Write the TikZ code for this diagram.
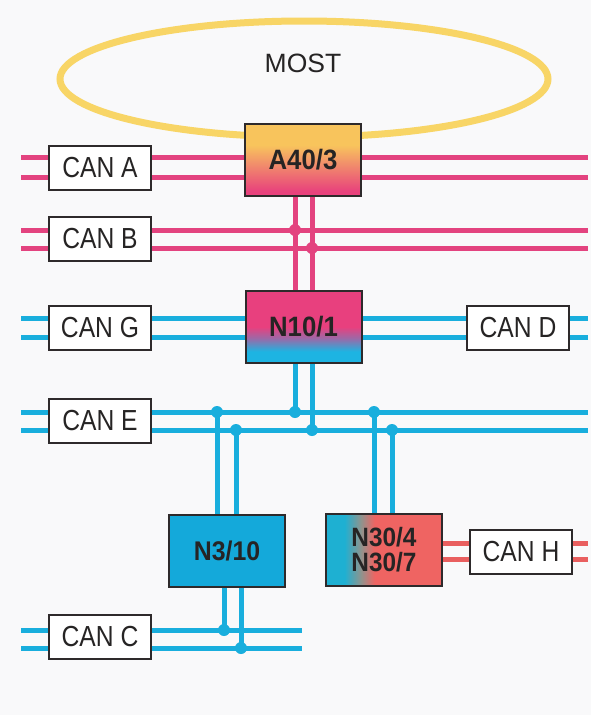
\documentclass[tikz,border=0pt]{standalone}
\usepackage{fontspec}
\setmainfont{Liberation Sans}
\newfontfamily\narrowfont[FakeStretch=0.85]{Liberation Sans}
\newfontfamily\ecufamily[FakeStretch=0.92]{Liberation Sans}
\usetikzlibrary{shapes.geometric}
\definecolor{pinkc}{HTML}{E3437F}
\definecolor{bluec}{HTML}{19AEDD}
\definecolor{salmonc}{HTML}{E95F5F}
\definecolor{yellowc}{HTML}{F8D566}
\definecolor{boxborder}{HTML}{2E2A2B}
\definecolor{txt}{HTML}{262424}
\definecolor{bgc}{HTML}{F9F9FA}
\definecolor{aTop}{HTML}{F8C45C}
\definecolor{aMid}{HTML}{F2926A}
\definecolor{aBot}{HTML}{E8427C}
\definecolor{nPink}{HTML}{E8407E}
\definecolor{nMid}{HTML}{9A6AA8}
\definecolor{nBlue}{HTML}{1DB4E2}
\definecolor{cyanL}{HTML}{1EB0D2}
\definecolor{greyM}{HTML}{8E948E}
\definecolor{salR}{HTML}{EF6462}
\definecolor{nthreefill}{HTML}{14A9DA}
\pgfdeclareverticalshading{aforty}{100bp}{color(0bp)=(aBot); color(28bp)=(aBot); color(48bp)=(aMid); color(60bp)=(aTop); color(100bp)=(aTop)}
\pgfdeclareverticalshading{nten}{100bp}{color(0bp)=(nBlue); color(33bp)=(nBlue); color(42bp)=(nMid); color(50bp)=(nPink); color(100bp)=(nPink)}
\pgfdeclarehorizontalshading{nthirty}{100bp}{color(0bp)=(cyanL); color(33bp)=(cyanL); color(40bp)=(greyM); color(46bp)=(salR); color(100bp)=(salR)}
\pgfdeclarelayer{bg}
\pgfsetlayers{bg,main}
\begin{document}
\begin{tikzpicture}[x=1pt,y=-1pt,
  bus/.style={line width=5pt},
  pinkbus/.style={bus,draw=pinkc},
  bluebus/.style={bus,draw=bluec},
  redbus/.style={bus,draw=salmonc},
  canbox/.style={draw=boxborder,line width=2pt,fill=white,minimum width=102pt,minimum height=44pt,inner sep=0pt,text=txt,font=\narrowfont\fontsize{29}{31}\selectfont},
  ecubox/.style={draw=boxborder,line width=2pt,minimum width=116pt,minimum height=72pt,inner sep=0pt,text=txt,align=center,font=\ecufamily\bfseries\fontsize{28}{25}\selectfont},
  pinkdot/.style={fill=pinkc},
  bluedot/.style={fill=bluec}
]
\useasboundingbox (0,0) rectangle (591,715);
% boxes
\node[ecubox,shade,shading=aforty] (A40) at (303,159.5) {A40/3};
\node[ecubox,shade,shading=nten] (N10) at (303.5,327) {N10/1};
\node[ecubox,fill=nthreefill,font=\ecufamily\bfseries\fontsize{27}{25}\selectfont] (N3) at (227,551) {N3/10};
\node[ecubox,shade,shading=nthirty,font=\ecufamily\bfseries\fontsize{26.5}{25}\selectfont] (N30) at (384,550) {N30/4\\N30/7};
\node[canbox] (canA) at (100,167.5) {CAN A};
\node[canbox] (canB) at (100,239) {CAN B};
\node[canbox] (canG) at (100,328) {CAN G};
\node[canbox] (canE) at (100,421) {CAN E};
\node[canbox] (canC) at (100,637) {CAN C};
\node[canbox] (canD) at (518,328) {CAN D};
\node[canbox] (canH) at (521,552) {CAN H};
\node[font=\fontsize{26.5}{28}\selectfont,text=txt] (mostlabel) at (303,63) {MOST};
% bus end points
\foreach \n/\y in {A1/157,A2/177,B1/230,B2/248,G1/318,G2/337,E1/412,E2/430}{
  \coordinate (\n w) at (21,\y);
  \coordinate (\n e) at (588,\y);}
\coordinate (C1w) at (21,630); \coordinate (C1e) at (302,630);
\coordinate (C2w) at (21,648); \coordinate (C2e) at (302,648);
\coordinate (H1e) at (588,543); \coordinate (H2e) at (588,559);
% junctions
\coordinate (jB1) at (295,230); \coordinate (jB2) at (312,248);
\coordinate (jE1) at (295,412); \coordinate (jE2) at (312,430);
\coordinate (jL1) at (217,412); \coordinate (jL2) at (236,430);
\coordinate (jR1) at (374,412); \coordinate (jR2) at (392,430);
\coordinate (jC1) at (224,630); \coordinate (jC2) at (241,648);
\begin{pgfonlayer}{bg}
\fill[bgc] (0,0) rectangle (591,715);
\node[ellipse,draw=yellowc,line width=7pt,minimum width=488pt,minimum height=116pt,inner sep=0pt] (most) at (304,79) {};
% horizontal buses
\draw[pinkbus] (A1w) -- (A1e);
\draw[pinkbus] (A2w) -- (A2e);
\draw[pinkbus] (B1w) -- (B1e);
\draw[pinkbus] (B2w) -- (B2e);
\draw[bluebus] (G1w) -- (G1e);
\draw[bluebus] (G2w) -- (G2e);
\draw[bluebus] (E1w) -- (E1e);
\draw[bluebus] (E2w) -- (E2e);
\draw[bluebus] (C1w) -- (C1e);
\draw[bluebus] (C2w) -- (C2e);
\draw[redbus] (N30.east |- H1e) -- (H1e);
\draw[redbus] (N30.east |- H2e) -- (H2e);
% vertical links
\draw[pinkbus] (A40.south -| jB1) -- (N10.north -| jB1);
\draw[pinkbus] (A40.south -| jB2) -- (N10.north -| jB2);
\draw[bluebus] (N10.south -| jE1) -- (jE1);
\draw[bluebus] (N10.south -| jE2) -- (jE2);
\draw[bluebus] (jL1) -- (N3.north -| jL1);
\draw[bluebus] (jL2) -- (N3.north -| jL2);
\draw[bluebus] (jR1) -- (N30.north -| jR1);
\draw[bluebus] (jR2) -- (N30.north -| jR2);
\draw[bluebus] (N3.south -| jC1) -- (jC1);
\draw[bluebus] (N3.south -| jC2) -- (jC2);
% dots
\fill[pinkdot] (jB1) circle (6pt);
\fill[pinkdot] (jB2) circle (6pt);
\foreach \j in {jE1,jE2,jL1,jL2,jR1,jR2,jC1,jC2}{\fill[bluedot] (\j) circle (6pt);}
\end{pgfonlayer}
\end{tikzpicture}
\end{document}
